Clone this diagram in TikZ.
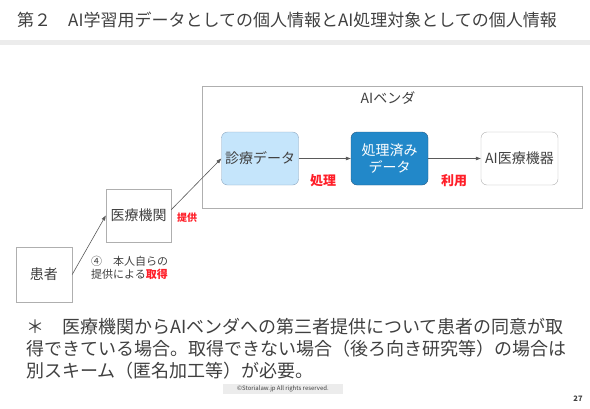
\documentclass[tikz,border=0pt]{standalone}
\definecolor{TextGray}  {RGB}{64,64,64}
\definecolor{LineGray}  {RGB}{90,90,90}
\definecolor{BoxGray}   {RGB}{175,175,175}
\definecolor{LightBlue} {RGB}{197,229,251}
\definecolor{EdgeBlue}  {RGB}{140,165,190}
\definecolor{DataBlue}  {RGB}{34,136,201}
\definecolor{DeepBlue}  {RGB}{40,90,130}
\definecolor{AccentRed} {RGB}{255,30,40}
\definecolor{BarGray}   {RGB}{236,236,236}
\usepackage{fontspec}
\setmainfont{Noto Sans CJK JP}
\usetikzlibrary{arrows.meta}
\begin{document}
\begin{tikzpicture}[x=1pt,y=-1pt,
    every node/.style={text=TextGray,inner sep=0pt},
    plainbox/.style={draw=BoxGray,fill=white,minimum width=#1,minimum height=53pt,
                     font=\fontsize{14}{16}\selectfont},
    plainbox/.default=65pt,
    databox/.style={rounded corners=6pt,minimum width=77pt,minimum height=53pt,
                    align=center,font=\fontsize{14}{17}\selectfont},
    redtag/.style={text=AccentRed,font=\fontsize{13}{15}\selectfont\bfseries},
    flow/.style={-{Triangle[length=5pt,width=3.5pt]},LineGray,line width=0.6pt}]
  \useasboundingbox (0,0) rectangle (590,408);
  %% Title
  \node[anchor=west,font=\fontsize{17}{20}\selectfont] (title) at (17,20)
    {第２　AI学習用データとしての個人情報とAI処理対象としての個人情報};
  \fill[BarGray] (0,40) rectangle (590,45);
  %% AI vendor frame
  \node[draw=BoxGray,minimum width=380pt,minimum height=122pt] (vendor) at (392,147) {};
  \node[font=\fontsize{14}{16}\selectfont] (vendorlbl) at (388,98) {AIベンダ};
  %% Data flow inside the vendor
  \node[databox,draw=EdgeBlue,fill=LightBlue] (shinryo) at (260,158.5) {診療データ};
  \node[databox,draw=DeepBlue,fill=DataBlue,text=white] (shori) at (389.5,158.5)
    {処理済み\\データ};
  \node[databox,draw=BoxGray,fill=white] (kiki) at (519.5,158.5) {AI医療機器};
  \draw[flow] (shinryo) -- (shori);
  \draw[flow] (shori) -- (kiki);
  \node[redtag] (shorilbl) at (323,181) {処理};
  \node[redtag] (riyolbl) at (454,181) {利用};
  %% Outside parties
  \node[plainbox] (kikan) at (138.5,215.5) {医療機関};
  \node[plainbox=56pt,minimum height=55pt] (kanja) at (44,274.5) {患者};
  \draw[flow] (kanja.east) -- (kikan.west);
  \draw[flow] (kikan.10) -- (shinryo.west);
  \node[redtag,font=\fontsize{10}{12}\selectfont\bfseries] (teikyo) at (187,218) {提供};
  \node[anchor=west,align=left,font=\fontsize{11}{13}\selectfont] (shutoku) at (91,268)
    {④　本人自らの\\提供による\textcolor{AccentRed}{\bfseries 取得}};
  %% Note
  \node[anchor=west,align=left,font=\fontsize{18}{22}\selectfont] (note) at (26,349)
    {＊　医療機関からAIベンダへの第三者提供について患者の同意が取\\
     得できている場合。取得できない場合（後ろ向き研究等）の場合は\\
     別スキーム（匿名加工等）が必要。};
  %% Footer
  \node[fill=BarGray,minimum width=120pt,minimum height=10pt,
        font=\fontsize{6}{7}\selectfont] (copy) at (283,389)
    {©Storialaw.jp All rights reserved.};
  \node[font=\fontsize{7.5}{9}\selectfont\bfseries] (page) at (578,399) {27};
\end{tikzpicture}
\end{document}
